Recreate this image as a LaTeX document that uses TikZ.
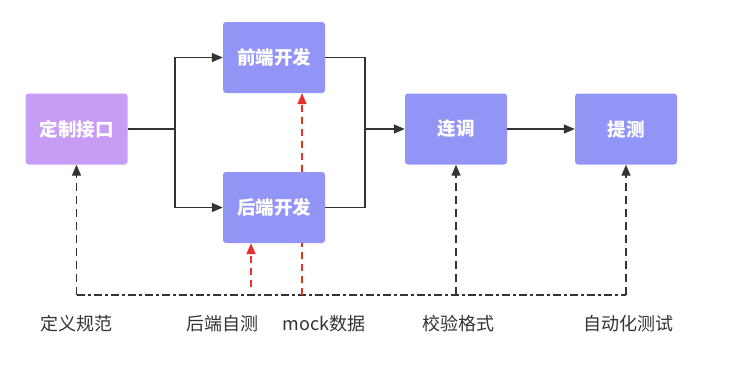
\documentclass[tikz,border=0pt]{standalone}
\usepackage{fontspec}
\setmainfont{Noto Sans CJK SC}
\usepackage{xcolor}
\usetikzlibrary{positioning,arrows.meta,calc}
\definecolor{ifcpurple}{HTML}{C69CF4}
\definecolor{stageblue}{HTML}{9295F6}
\definecolor{linegray}{HTML}{333333}
\definecolor{mockred}{HTML}{E8302A}

\begin{document}
\begin{tikzpicture}[
  x=1pt, y=-1pt,
  >={Triangle[length=11pt,width=9pt]},
  stage/.style={
    rectangle, rounded corners=3pt, fill=stageblue, text=white,
    minimum width=102pt, minimum height=71pt, align=center,
    font=\fontsize{18.5}{20}\selectfont\bfseries
  },
  flow/.style={draw=linegray, line width=1.4pt},
  check/.style={draw=linegray, line width=1.4pt, dash pattern=on 8pt off 5pt},
  mockline/.style={draw=mockred, line width=1.8pt, dash pattern=on 7pt off 5pt},
  baseline/.style={draw=linegray, line width=1.4pt, dash pattern=on 8pt off 3pt on 3pt off 3pt},
  lab/.style={text=linegray, font=\fontsize{18}{20}\selectfont}
]
\useasboundingbox (0,0) rectangle (733,375);

% stages
\node[stage, fill=ifcpurple] (ifc) at (76.5,129) {定制接口};
\node[stage] (fe) at (274,57.5) {前端开发};
\node[stage] (be) at (274,207.5) {后端开发};
\node[stage] (lt) at (456,129) {连调};
\node[stage] (tt) at (626,129) {提测};

% main flow
\coordinate (split) at (175,129);
\coordinate (merge) at (365,129);
\draw[flow] (ifc) -- (split);
\draw[flow, ->] (split) |- (fe);
\draw[flow, ->] (split) |- (be);
\draw[flow] (fe) -| (merge);
\draw[flow] (be) -| (merge);
\draw[flow, ->] (merge) -- (lt);
\draw[flow, ->] (lt) -- (tt);

% checks
\coordinate (baseL) at (76.5,295);
\coordinate (baseR) at (626,295);
\draw[baseline] (baseL) -- (baseR);
\draw[check, ->] (baseL) -- (ifc);
\draw[check, ->] (lt |- baseR) -- (lt);
\draw[check, ->] (baseR) -- (tt);

% mock data
\coordinate (selftest) at (251,287);
\coordinate (mockbase) at (302,295);
\draw[mockline, ->] (selftest) -- (selftest |- be.south);
\draw[mockline] (mockbase) -- (mockbase |- be.south);
\draw[mockline, ->] ([xshift=28pt]be.north) -- ([xshift=28pt]fe.south);

% labels
\node[lab] (l1) at (76.5,324) {定义规范};
\node[lab] (l2) at (222,324) {后端自测};
\node[lab] (l3) at (324,324) {mock数据};
\node[lab] (l4) at (458,324) {校验格式};
\node[lab] (l5) at (628,324) {自动化测试};

\end{tikzpicture}
\end{document}
